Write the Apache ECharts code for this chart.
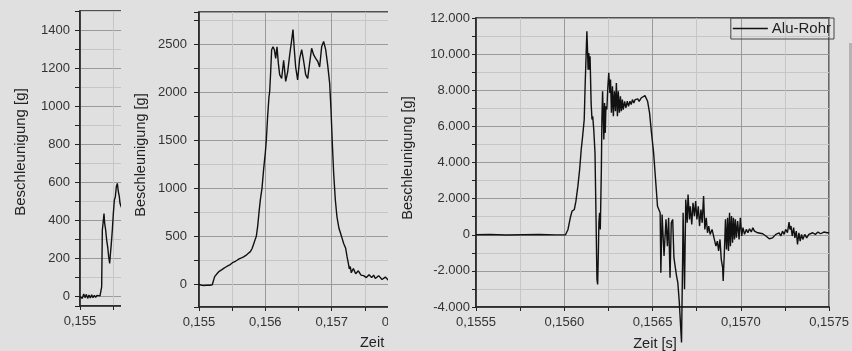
<!DOCTYPE html>
<html><head><meta charset="utf-8">
<script src="https://cdn.jsdelivr.net/npm/echarts@6/dist/echarts.min.js"></script>
<style>html,body{margin:0;padding:0;background:#e0e0e0}#c{width:852px;height:351px}</style>
</head><body><div id="c"></div>
<script>
// ---------- data ----------
const yTitle = 'Beschleunigung [g]';
const xTitle = 'Zeit [s]';
const seriesName3 = 'Alu-Rohr';

const p1Time = [0.155000,0.155015,0.155035,0.155055,0.155075,0.155095,0.155115,0.155135,0.155155,0.155175,0.155195,0.155215,0.155235,0.155255,0.155275,0.155300,0.155315,0.155325,0.155335,0.155350,0.155360,0.155370,0.155385,0.155400,0.155415,0.155430,0.155445,0.155455,0.155470,0.155485,0.155500,0.155515,0.155530,0.155545,0.155560,0.155575,0.155590,0.155600,0.155620];
const p1Accel = [0,9,-9,14,-5,12,-9,9,-7,10,-5,7,-4,7,0,4,5,52,350,400,437,385,350,297,262,210,175,219,280,350,437,507,525,577,595,551,525,490,470];

const p2Time = [0.155000,0.155020,0.155040,0.155060,0.155080,0.155100,0.155120,0.155140,0.155160,0.155180,0.155200,0.155221,0.155236,0.155250,0.155271,0.155290,0.155305,0.155322,0.155340,0.155355,0.155372,0.155390,0.155405,0.155422,0.155440,0.155455,0.155472,0.155490,0.155505,0.155523,0.155540,0.155556,0.155573,0.155590,0.155605,0.155623,0.155640,0.155655,0.155673,0.155690,0.155707,0.155724,0.155740,0.155757,0.155774,0.155799,0.155824,0.155849,0.155864,0.155884,0.155905,0.155925,0.155950,0.155975,0.156000,0.156015,0.156035,0.156055,0.156065,0.156080,0.156095,0.156116,0.156136,0.156156,0.156176,0.156196,0.156216,0.156246,0.156276,0.156307,0.156337,0.156367,0.156397,0.156417,0.156437,0.156457,0.156487,0.156518,0.156548,0.156578,0.156608,0.156638,0.156668,0.156698,0.156729,0.156759,0.156789,0.156819,0.156849,0.156879,0.156910,0.156940,0.156970,0.156990,0.157010,0.157030,0.157055,0.157080,0.157111,0.157141,0.157161,0.157181,0.157211,0.157231,0.157251,0.157266,0.157281,0.157296,0.157312,0.157327,0.157342,0.157362,0.157382,0.157402,0.157422,0.157442,0.157462,0.157482,0.157503,0.157523,0.157543,0.157563,0.157583,0.157603,0.157633,0.157658,0.157683,0.157708,0.157734,0.157759,0.157784,0.157809,0.157834,0.157859,0.157884,0.157935];
const p2Accel = [0,10,-10,5,-12,8,-8,6,-10,5,-5,0,80,95,110,100,135,125,150,140,165,160,180,170,195,185,205,200,225,215,235,230,250,245,265,260,275,280,285,290,300,300,320,330,340,370,420,470,500,600,750,880,1000,1200,1370,1500,1750,1950,2000,2200,2440,2470,2440,2350,2470,2300,2180,2140,2330,2110,2210,2385,2540,2650,2440,2260,2125,2350,2440,2320,2180,2140,2300,2455,2385,2350,2320,2260,2470,2525,2440,2280,2090,1815,1465,1155,880,700,580,515,470,425,375,290,220,160,185,120,130,165,150,110,115,140,130,95,115,90,95,70,80,100,85,70,95,60,60,90,80,50,45,75,60,40,70,50];

const p3Time = [0.155500,0.155578,0.155671,0.155764,0.155858,0.155951,0.156007,0.156021,0.156034,0.156044,0.156057,0.156066,0.156077,0.156087,0.156096,0.156103,0.156113,0.156118,0.156124,0.156128,0.156131,0.156135,0.156139,0.156142,0.156146,0.156152,0.156157,0.156161,0.156167,0.156174,0.156180,0.156185,0.156189,0.156193,0.156196,0.156200,0.156204,0.156210,0.156213,0.156217,0.156221,0.156224,0.156228,0.156232,0.156236,0.156241,0.156247,0.156252,0.156258,0.156262,0.156267,0.156273,0.156278,0.156284,0.156290,0.156295,0.156301,0.156306,0.156312,0.156318,0.156323,0.156329,0.156334,0.156342,0.156349,0.156357,0.156364,0.156372,0.156379,0.156386,0.156394,0.156401,0.156409,0.156416,0.156424,0.156435,0.156446,0.156457,0.156465,0.156472,0.156483,0.156494,0.156506,0.156517,0.156528,0.156543,0.156547,0.156554,0.156565,0.156576,0.156584,0.156591,0.156599,0.156606,0.156614,0.156621,0.156629,0.156636,0.156643,0.156651,0.156658,0.156664,0.156670,0.156673,0.156681,0.156688,0.156696,0.156701,0.156709,0.156714,0.156722,0.156729,0.156737,0.156744,0.156751,0.156759,0.156766,0.156774,0.156781,0.156789,0.156796,0.156804,0.156811,0.156818,0.156826,0.156837,0.156848,0.156859,0.156867,0.156874,0.156882,0.156889,0.156897,0.156900,0.156908,0.156913,0.156919,0.156925,0.156930,0.156936,0.156941,0.156947,0.156953,0.156958,0.156964,0.156969,0.156975,0.156982,0.156990,0.156997,0.157005,0.157012,0.157021,0.157031,0.157040,0.157049,0.157059,0.157068,0.157077,0.157087,0.157096,0.157105,0.157124,0.157142,0.157161,0.157170,0.157180,0.157189,0.157198,0.157208,0.157217,0.157226,0.157236,0.157245,0.157254,0.157264,0.157273,0.157278,0.157284,0.157291,0.157299,0.157306,0.157314,0.157321,0.157329,0.157336,0.157344,0.157351,0.157362,0.157373,0.157385,0.157396,0.157407,0.157422,0.157437,0.157452,0.157470,0.157489,0.157500];
const p3Accel = [0,10,-10,0,10,-5,0,295,940,1310,1400,1860,2690,3610,4720,5360,6380,8220,10060,11260,10430,9140,10060,9140,9880,7300,6380,6560,5820,4530,850,-2470,-2750,-1000,660,1220,295,3610,6380,7940,6380,5270,7300,5640,7110,6930,8220,8960,7850,8590,6750,8220,6560,7940,6840,8400,6560,7940,6750,7670,6840,7480,6930,7390,7020,7390,7110,7390,7210,7480,7300,7480,7390,7520,7390,7570,7480,7700,7630,7390,6750,5640,4530,3060,1580,1220,-2100,1120,-1180,850,-630,940,-2380,660,850,-1270,-1820,-2290,-2650,-3670,-3580,-5970,-1550,1220,-3020,1950,660,2230,850,1580,570,1770,1030,1860,850,1580,480,1400,660,2140,295,940,110,480,20,295,-170,-630,-350,-900,-260,-1360,-1820,-2560,-630,850,-810,940,-900,1220,-630,1030,-440,940,-260,850,-170,760,-260,940,-70,390,20,295,110,330,150,390,200,295,110,200,55,-70,-220,-310,-170,-70,20,-70,110,-70,200,20,295,110,700,295,480,-70,390,-170,200,-535,110,-350,20,-260,20,-170,20,-70,110,20,150,55,150,110,110];

// ---------- helpers ----------
const BG = '#e0e0e0';
const MAJOR = '#9a9a9a', MINOR = '#c6c6c6', AX = '#222';
const isMult = (v, s) => Math.abs(v / s - Math.round(v / s)) < 1e-6;
const dots = v => { if (Math.abs(v) < 1e-9) return '0'; const s = String(Math.round(Math.abs(v))).replace(/\B(?=(\d{3})+(?!\d))/g, '.'); return (v < 0 ? '-' : '') + s; };
const pairs = (a, b) => a.map((t, i) => [t, b[i]]);
const font = 'Liberation Sans, Arial, sans-serif';

function xAx(gi, min, max, interval, step, dec, colors, margin) {
  return {
    type: 'value', gridIndex: gi, min, max, interval,
    axisLine: { onZero: false, lineStyle: { color: AX, width: 1.5 } },
    axisTick: { length: 4, lineStyle: { color: AX } },
    axisLabel: { margin, fontSize: 13, color: '#333', fontFamily: font,
      formatter: v => isMult(v, step) ? v.toFixed(dec).replace('.', ',') : '' },
    splitLine: { show: true, lineStyle: { color: colors, width: 1 } }
  };
}
function yAx(gi, min, max, opts, step, fmt, colors, margin, tickLen) {
  return Object.assign({
    type: 'value', gridIndex: gi, min, max,
    axisLine: { show: true, onZero: false, lineStyle: { color: AX, width: 1.5 } },
    axisTick: { show: true, length: tickLen, lineStyle: { color: AX } },
    axisLabel: { margin, fontSize: 13, color: '#333', fontFamily: font,
      formatter: v => isMult(v, step) ? fmt(v) : '' },
    splitLine: { show: true, lineStyle: { color: colors, width: 1 } }
  }, opts);
}

const chart = echarts.init(document.getElementById('c'), null, { renderer: 'canvas' });
const gridBase = { show: true, borderColor: AX, borderWidth: 1.5, backgroundColor: 'transparent', containLabel: false };
const option = {
  animation: false,
  backgroundColor: BG,
  textStyle: { fontFamily: font },
  grid: [
    Object.assign({ left: 80, top: 11, width: 44, height: 295 }, gridBase),
    Object.assign({ left: 199, top: 12, width: 199, height: 295 }, gridBase),
    Object.assign({ left: 476, top: 18, width: 358, height: 289 }, gridBase)
  ],
  xAxis: [
    xAx(0, 0.155, 0.15566, 0.0005, 0.001, 3, [MAJOR, MINOR], 9),
    xAx(1, 0.155, 0.158, 0.0005, 0.001, 3, [MAJOR, MINOR], 9),
    xAx(2, 0.1555, 0.1575, 0.00025, 0.0005, 4, [MAJOR, MINOR], 9)
  ],
  yAxis: [
    yAx(0, -49, 1500, { minInterval: 100, maxInterval: 100, splitNumber: 15 }, 200, v => String(Math.round(v)), [MINOR, MAJOR], 10, 5),
    yAx(1, -236, 2832, { minInterval: 250, maxInterval: 250, splitNumber: 12 }, 500, v => String(Math.round(v)), [MINOR, MAJOR], 12, 5),
    yAx(2, -4000, 12000, { interval: 1000 }, 2000, dots, [MAJOR, MINOR], 6, 4)
  ],
  legend: {
    data: [{ name: seriesName3, icon: 'rect' }], right: 18, top: 18, orient: 'horizontal',
    padding: [3, 3, 3, 2], itemWidth: 35, itemHeight: 1.6, itemGap: 0,
    borderColor: '#444', borderWidth: 1, borderRadius: 0,
    textStyle: { fontSize: 15, color: '#222', fontFamily: font, padding: [0, 0, 0, -1] }
  },
  series: [
    { name: 'p1', type: 'line', xAxisIndex: 0, yAxisIndex: 0, data: pairs(p1Time, p1Accel), symbol: 'none', silent: true, lineStyle: { color: '#111', width: 1.4 } },
    { name: 'p2', type: 'line', xAxisIndex: 1, yAxisIndex: 1, data: pairs(p2Time, p2Accel), symbol: 'none', silent: true, lineStyle: { color: '#111', width: 1.4 } },
    { name: seriesName3, type: 'line', xAxisIndex: 2, yAxisIndex: 2, data: pairs(p3Time, p3Accel), symbol: 'none', silent: true, clip: false, lineStyle: { color: '#111', width: 1.4 }, itemStyle: { color: '#111' } }
  ],
  graphic: [
    { type: 'rect', z: 100, shape: { x: 121, y: 0, width: 12, height: 351 }, style: { fill: BG } },
    { type: 'rect', z: 100, shape: { x: 388, y: 0, width: 40, height: 351 }, style: { fill: BG } },
    { type: 'rect', z: 100, shape: { x: 849, y: 43, width: 3, height: 197 }, style: { fill: '#b4b4b4' } },
    { type: 'text', z: 110, x: 21, y: 152, rotation: Math.PI / 2, style: { text: yTitle, fill: '#222', font: '15px ' + font, align: 'center', verticalAlign: 'middle' } },
    { type: 'text', z: 110, x: 141, y: 155, rotation: Math.PI / 2, style: { text: yTitle, fill: '#222', font: '14.5px ' + font, align: 'center', verticalAlign: 'middle' } },
    { type: 'text', z: 110, x: 408, y: 158, rotation: Math.PI / 2, style: { text: yTitle, fill: '#222', font: '14.5px ' + font, align: 'center', verticalAlign: 'middle' } },
    { type: 'text', z: 50, x: 360, y: 343, style: { text: xTitle, fill: '#222', font: '14.5px ' + font, align: 'left', verticalAlign: 'middle' } },
    { type: 'text', z: 110, x: 655, y: 344, style: { text: xTitle, fill: '#222', font: '14.5px ' + font, align: 'center', verticalAlign: 'middle' } }
  ]
};
chart.setOption(option);
</script></body></html>
